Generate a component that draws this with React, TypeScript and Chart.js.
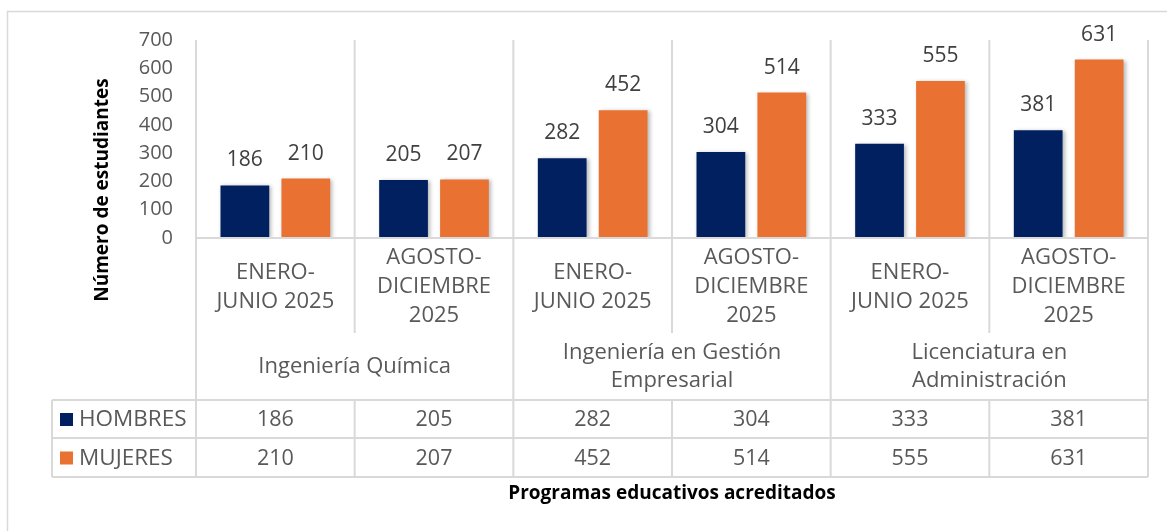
import React, { useEffect, useRef } from "react";
import { Chart, registerables } from "chart.js";

Chart.register(...registerables);

const periodLabels: string[][] = [
  ["ENERO-", "JUNIO 2025"],
  ["AGOSTO-", "DICIEMBRE", "2025"],
  ["ENERO-", "JUNIO 2025"],
  ["AGOSTO-", "DICIEMBRE", "2025"],
  ["ENERO-", "JUNIO 2025"],
  ["AGOSTO-", "DICIEMBRE", "2025"],
];
const programLabels: string[][] = [
  ["Ingeniería Química"],
  ["Ingeniería en Gestión", "Empresarial"],
  ["Licenciatura en", "Administración"],
];
const seriesNames = ["HOMBRES", "MUJERES"];
const hombres = [186, 205, 282, 304, 333, 381];
const mujeres = [210, 207, 452, 514, 555, 631];
const seriesColors = ["#002060", "#E97132"];
const yAxisTitle = "Número de estudiantes";
const xAxisTitle = "Programas educativos acreditados";

const FONT = "'Open Sans', sans-serif";
const GRID = "#d9d9d9";
const TEXT = "#595959";

const decorPlugin = {
  id: "decor",
  beforeDraw(chart: any) {
    const ctx = chart.ctx;
    ctx.save();
    ctx.fillStyle = "#ffffff";
    ctx.fillRect(0, 0, chart.width, chart.height);
    ctx.strokeStyle = GRID;
    ctx.lineWidth = 1.5;
    ctx.strokeRect(7.5, 11.5, chart.width + 20, chart.height + 20);
    ctx.restore();
  },
  beforeDatasetsDraw(chart: any) {
    const ctx = chart.ctx;
    ctx.save();
    ctx.shadowColor = "rgba(0,0,0,0.28)";
    ctx.shadowBlur = 4;
    ctx.shadowOffsetX = 2;
    ctx.shadowOffsetY = 1;
  },
  afterDatasetsDraw(chart: any) {
    chart.ctx.restore();
  },
  afterDraw(chart: any) {
    const ctx = chart.ctx;
    const ca = chart.chartArea;
    const xs = chart.scales.x;
    const n = periodLabels.length;
    const b: number[] = [];
    for (let i = 0; i <= n; i++) {
      if (i === 0) b.push(ca.left);
      else if (i === n) b.push(ca.right);
      else b.push((xs.getPixelForValue(i - 1) + xs.getPixelForValue(i)) / 2);
    }
    const axisY = ca.bottom;
    const periodBottom = axisY + 95;
    const tableTop = axisY + 162;
    const row1 = axisY + 200;
    const row2 = axisY + 239;
    const tableLeft = 52;

    ctx.save();
    ctx.strokeStyle = GRID;
    ctx.lineWidth = 2;
    const line = (x1: number, y1: number, x2: number, y2: number) => {
      ctx.beginPath();
      ctx.moveTo(x1, y1);
      ctx.lineTo(x2, y2);
      ctx.stroke();
    };
    line(ca.left, axisY, ca.right, axisY);
    line(tableLeft, tableTop, ca.right, tableTop);
    line(tableLeft, row1, ca.right, row1);
    line(tableLeft, row2, ca.right, row2);
    line(tableLeft, tableTop, tableLeft, row2);
    const perGroup = n / programLabels.length;
    for (let i = 0; i <= n; i++) {
      if (i % perGroup === 0) {
        line(b[i], ca.top, b[i], row2);
      } else {
        line(b[i], ca.top, b[i], periodBottom);
        line(b[i], tableTop, b[i], row2);
      }
    }

    ctx.fillStyle = TEXT;
    ctx.textAlign = "center";
    ctx.textBaseline = "middle";
    ctx.font = `22px ${FONT}`;
    const lh = 29;
    const periodMid = axisY + 49;
    for (let i = 0; i < n; i++) {
      const cx = xs.getPixelForValue(i);
      const lines = periodLabels[i];
      const y0 = periodMid - ((lines.length - 1) * lh) / 2;
      lines.forEach((t, k) => ctx.fillText(t, cx, y0 + k * lh));
    }
    const progMid = axisY + 129;
    for (let g = 0; g < programLabels.length; g++) {
      const cx = (b[g * perGroup] + b[(g + 1) * perGroup]) / 2;
      const lines = programLabels[g];
      const y0 = progMid - ((lines.length - 1) * 28) / 2;
      lines.forEach((t, k) => ctx.fillText(t, cx, y0 + k * 28));
    }
    const rows = [hombres, mujeres];
    const rowMids = [(tableTop + row1) / 2, (row1 + row2) / 2];
    ctx.font = `21.5px ${FONT}`;
    rows.forEach((vals, r) => {
      vals.forEach((v, i) => ctx.fillText(String(v), xs.getPixelForValue(i), rowMids[r] + 1));
      ctx.fillStyle = seriesColors[r];
      ctx.fillRect(60, rowMids[r] - 6, 13, 13);
      ctx.fillStyle = TEXT;
      ctx.textAlign = "left";
      ctx.font = `22.5px ${FONT}`;
      ctx.fillText(seriesNames[r], 79, rowMids[r] + 1);
      ctx.font = `21.5px ${FONT}`;
      ctx.textAlign = "center";
    });

    ctx.fillStyle = "#404040";
    ctx.font = `21px ${FONT}`;
    chart.data.datasets.forEach((ds: any, di: number) => {
      const meta = chart.getDatasetMeta(di);
      meta.data.forEach((el: any, i: number) => {
        ctx.fillText(String(ds.data[i]), el.x, el.y - 25);
      });
    });

    ctx.fillStyle = "#000000";
    ctx.font = `bold 19px ${FONT}`;
    ctx.fillText(xAxisTitle, (ca.left + ca.right) / 2, 494);
    ctx.translate(103, 190);
    ctx.rotate(-Math.PI / 2);
    ctx.fillText(yAxisTitle, 0, 0);
    ctx.restore();
  },
};

export default function App() {
  const ref = useRef<HTMLCanvasElement>(null);
  useEffect(() => {
    if (!ref.current) return;
    const chart = new Chart(ref.current, {
      type: "bar",
      data: {
        labels: periodLabels.map((l) => l.join(" ")),
        datasets: [
          { label: seriesNames[0], data: hombres, backgroundColor: seriesColors[0] },
          { label: seriesNames[1], data: mujeres, backgroundColor: seriesColors[1] },
        ],
      },
      options: {
        animation: false,
        responsive: false,
        events: [],
        layout: { padding: { top: 40, right: 19, bottom: 293, left: 0 } },
        datasets: { bar: { categoryPercentage: 0.768, barPercentage: 0.8 } },
        plugins: { legend: { display: false }, tooltip: { enabled: false }, title: { display: false } },
        scales: {
          x: { display: false },
          y: {
            min: 0,
            max: 700,
            ticks: { stepSize: 100, padding: 23, color: TEXT, font: { family: FONT, size: 20 } },
            grid: { display: false, drawTicks: false },
            border: { display: false },
            afterFit: (s: any) => {
              s.width = 196;
            },
          },
        },
      },
      plugins: [decorPlugin],
    });
    return () => chart.destroy();
  }, []);
  return (
    <div style={{ position: "absolute", left: 0, top: 0, width: 1167, height: 531 }}>
      <canvas ref={ref} width={1167} height={531} style={{ display: "block" }} />
    </div>
  );
}
